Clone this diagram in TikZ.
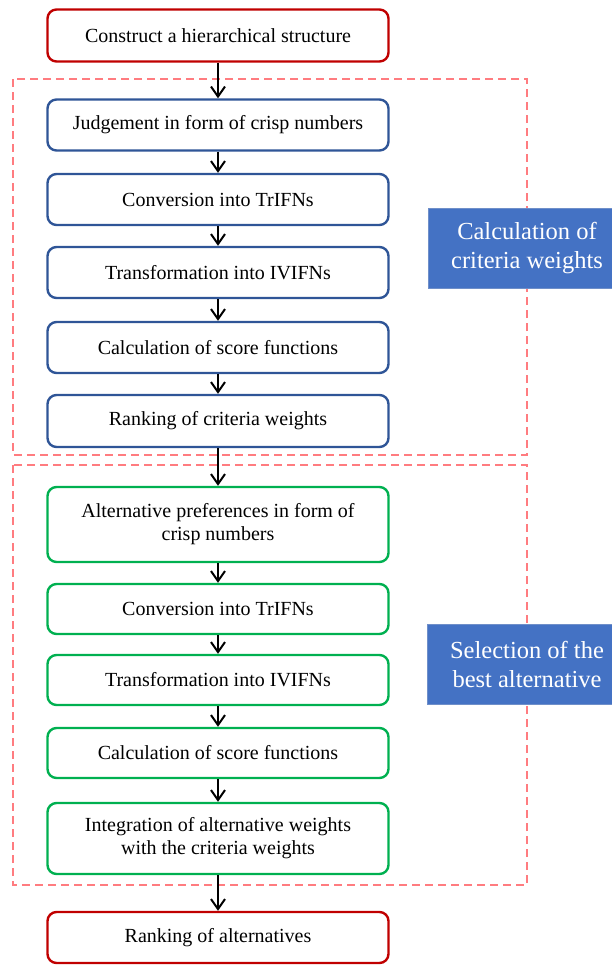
\documentclass[tikz,border=0pt]{standalone}
\usepackage{fontspec}
\setmainfont{Liberation Serif}
\usetikzlibrary{arrows.meta}
\definecolor{cred}{HTML}{C00000}
\definecolor{cblue}{HTML}{2F5597}
\definecolor{cgreen}{HTML}{00B050}
\definecolor{cdash}{HTML}{FF7C80}
\definecolor{clabel}{HTML}{4472C4}
\definecolor{clabelb}{HTML}{6F8FC9}
\tikzset{
  stepbox/.style={draw, line width=2.4pt, rounded corners=9pt, fill=white,
    minimum width=341pt, align=center, inner sep=2pt,
    font=\fontsize{20}{23}\selectfont},
  redbox/.style={stepbox, draw=cred},
  bluebox/.style={stepbox, draw=cblue},
  greenbox/.style={stepbox, draw=cgreen},
  group/.style={draw=cdash, line width=2.2pt, dash pattern=on 8pt off 5pt},
  phase/.style={fill=clabel, draw=clabelb, line width=0.8pt},
  phasetext/.style={text=white, align=center, font=\fontsize{24.5}{29}\selectfont},
  flow/.style={line width=2pt, -{Straight Barb[length=10pt,width=14pt,line width=2pt]}}
}
\begin{document}
\begin{tikzpicture}[x=1pt,y=-1pt]
\useasboundingbox (0,0) rectangle (611,967);
% dashed groups
\draw[group] (13,79) rectangle (527,455);
\draw[group] (13,465) rectangle (527,885);
% phase labels
\fill[phase] (428,208) rectangle (625,288);
\node[phasetext] (p1) at (527,248) {Calculation of\\criteria weights};
\fill[phase] (427,624) rectangle (625,704);
\node[phasetext] (p2) at (527,664) {Selection of the\\best alternative};
% boxes
\node[redbox, minimum height=52pt] (b1) at (218,35.5) {Construct a hierarchical structure};
\node[bluebox, minimum height=51pt] (b2) at (218,125) {Judgement in form of crisp numbers};
\node[bluebox, minimum height=51pt] (b3) at (218,199.5) {Conversion into TrIFNs};
\node[bluebox, minimum height=51pt] (b4) at (218,272.5) {Transformation into IVIFNs};
\node[bluebox, minimum height=51pt] (b5) at (218,347.5) {Calculation of score functions};
\node[bluebox, minimum height=52pt] (b6) at (218,421) {Ranking of criteria weights};
\node[greenbox, minimum height=75pt] (b7) at (218,524.5) {Alternative preferences in form of\\crisp numbers};
\node[greenbox, minimum height=50pt] (b8) at (218,609) {Conversion into TrIFNs};
\node[greenbox, minimum height=50pt] (b9) at (218,680) {Transformation into IVIFNs};
\node[greenbox, minimum height=50pt] (b10) at (218,753) {Calculation of score functions};
\node[greenbox, minimum height=71pt] (b11) at (218,838.5) {Integration of alternative weights\\with the criteria weights};
\node[redbox, minimum height=51pt] (b12) at (218,937.5) {Ranking of alternatives};
% arrows
\foreach \a/\b in {b1/b2,b2/b3,b3/b4,b4/b5,b5/b6,b6/b7,b7/b8,b8/b9,b9/b10,b10/b11,b11/b12}
  \draw[flow] (\a.south) -- (\b.north);
\end{tikzpicture}
\end{document}
